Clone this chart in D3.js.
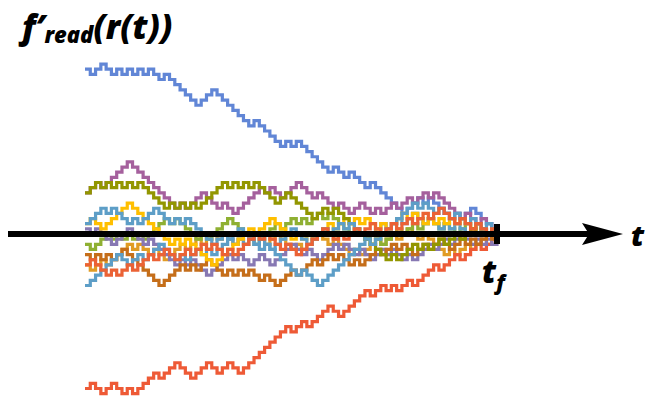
<!DOCTYPE html>
<html>
<head>
<meta charset="utf-8">
<script src="https://cdn.jsdelivr.net/npm/d3@7"></script>
<style>
  html, body { margin: 0; padding: 0; background: #fff; overflow: hidden; }
  svg { display: block; }
  .lbl { font-family: "Open Sans", Lato, "DejaVu Sans", sans-serif; font-weight: 800; font-style: italic; fill: #000; }
</style>
</head>
<body>
<div id="chart"></div>
<script>
// walk levels per time step (79 steps, each step is +/-1 unit)
const blue = [32,31,32,33,32,31,32,31,32,31, 32,31,32,31,30,31,30,29,28,27, 26,25,26,27,28,27,26,25,24,23, 22,21,22,21,20,19,18,17,18,17, 18,17,16,15,14,13,12,13,12,11, 12,11,10,9,10,9,8,7,6,5, 4,5,6,7,6,7,6,5,4,3, 4,3,4,5,4,3,2,1,0];
const red = [-30,-29,-30,-31,-30,-29,-30,-31,-30,-31, -30,-29,-28,-27,-28,-27,-26,-25,-26,-27, -28,-27,-26,-25,-26,-27,-26,-25,-26,-27, -26,-25,-24,-23,-22,-21,-20,-19,-18,-19, -18,-17,-18,-17,-16,-15,-14,-15,-16,-15, -14,-13,-12,-11,-12,-11,-10,-11,-10,-11, -10,-9,-10,-9,-8,-7,-6,-7,-6,-5, -4,-5,-4,-3,-2,-3,-2,-1,0];
const magenta = [8,9,10,9,10,11,12,13,14,13, 12,11,10,9,8,7,6,5,6,5, 6,7,8,7,6,5,6,5,4,5, 6,7,8,9,8,9,8,7,8,9, 10,9,8,7,8,7,6,5,6,5, 4,5,6,5,4,5,4,5,6,5, 6,7,6,7,8,7,8,7,6,5, 4,3,4,3,2,3,2,1,0];
const olive = [8,9,10,9,10,9,10,9,10,9, 10,9,8,7,6,5,6,5,6,5, 6,5,6,7,8,9,10,9,10,9, 10,9,10,9,8,7,6,7,8,7, 6,5,4,3,4,5,4,5,4,3, 2,1,0,-1,-2,-3,-4,-5,-4,-5, -4,-3,-2,-3,-2,-3,-2,-1,-2,-1, 0,-1,0,1,0,1,0,1,0];
const yellow = [2,3,2,1,2,3,4,5,6,5, 4,3,2,1,0,-1,-2,-1,-2,-1, -2,-3,-4,-5,-6,-5,-4,-3,-2,-1, 0,1,0,1,2,3,2,1,0,-1, 0,-1,0,-1,0,1,2,1,2,3, 2,3,2,3,2,1,2,1,2,3, 4,3,4,3,2,3,2,3,2,3, 2,3,2,1,2,1,0,1,0];
const lightBlueA = [-10,-9,-8,-7,-6,-5,-4,-5,-6,-5, -4,-5,-4,-3,-2,-3,-4,-5,-4,-5, -4,-3,-4,-3,-4,-3,-2,-1,-2,-1, -2,-1,-2,-3,-2,-3,-4,-5,-6,-7, -8,-7,-8,-9,-10,-9,-8,-7,-6,-5, -4,-3,-2,-1,0,1,2,1,2,3, 2,3,4,3,2,3,2,1,2,1, 2,1,0,1,2,1,0,1,0];
const lightBlueB = [2,3,4,5,4,5,4,3,2,3, 2,3,4,5,4,3,2,3,2,3, 2,1,0,-1,-2,-1,0,-1,0,1, 0,-1,-2,-1,-2,-3,-2,-1,0,1, 0,-1,-2,-1,0,1,0,1,2,1, 2,1,0,-1,-2,-1,0,1,2,3, 4,5,6,5,6,5,4,5,4,3, 4,3,2,3,2,1,2,1,0];
const green = [-2,-3,-2,-1,0,-1,0,-1,0,-1, 0,-1,0,1,2,3,2,3,2,1, 0,-1,0,-1,0,1,2,3,2,1, 0,-1,-2,-1,0,1,2,1,2,3, 2,3,2,3,4,3,4,3,2,1, 0,1,0,-1,-2,-1,-2,-1,0,1, 0,1,2,1,2,3,2,1,2,1, 0,1,2,1,2,1,0,1,0];
const brown = [-4,-5,-4,-5,-4,-5,-4,-3,-4,-5, -6,-7,-8,-9,-10,-9,-8,-7,-6,-7, -6,-7,-6,-5,-6,-7,-8,-7,-8,-7, -8,-7,-8,-9,-8,-9,-10,-9,-8,-7, -8,-7,-6,-5,-6,-5,-4,-5,-4,-5, -6,-5,-6,-5,-4,-3,-4,-3,-2,-3, -2,-3,-4,-3,-2,-3,-2,-1,-2,-3, -2,-1,-2,-1,-2,-1,0,-1,0];
const purple = [1,0,1,0,-1,-2,-1,0,1,0, -1,-2,-1,-2,-3,-4,-5,-6,-5,-6, -5,-6,-7,-8,-7,-6,-5,-4,-5,-4, -5,-6,-5,-4,-5,-6,-5,-4,-3,-2, -3,-4,-3,-4,-5,-4,-3,-2,-3,-2, -3,-4,-3,-4,-5,-4,-3,-4,-3,-4, -5,-4,-5,-4,-3,-2,-3,-2,-1,-2, -1,0,-1,-2,-1,-2,-1,-2,-1];
const orange = [-6,-7,-6,-5,-6,-5,-4,-3,-2,-3, -2,-3,-4,-3,-4,-5,-4,-3,-2,-3, -2,-1,-2,-1,0,-1,0,-1,-2,-1, -2,-1,0,-1,-2,-1,0,-1,-2,-3, -2,-3,-2,-1,0,-1,-2,-1,-2,-3, -4,-3,-4,-3,-2,-1,-2,-1,0,-1, 0,1,0,-1,0,-1,-2,-3,-4,-3, -4,-3,-2,-3,-2,-1,-2,-1,0];
const redMid = [-6,-5,-6,-7,-8,-7,-8,-7,-6,-7, -6,-5,-4,-5,-4,-3,-4,-5,-4,-3, -4,-3,-2,-3,-2,-3,-4,-3,-4,-3, -2,-1,0,-1,0,-1,-2,-3,-2,-3, -4,-3,-2,-1,0,1,0,-1,0,-1, 0,1,0,1,2,1,0,1,2,1, 2,3,2,3,4,3,4,5,4,3, 2,3,2,1,2,1,0,1,0];

const series = [
  { name: 'blue',       values: blue,       color: '#6186d6' },
  { name: 'orange',     values: orange,     color: '#E19C24' },
  { name: 'green',      values: green,      color: '#8FB032' },
  { name: 'red',        values: red,        color: '#EE5A36' },
  { name: 'purple',     values: purple,     color: '#8778B3' },
  { name: 'brown',      values: brown,      color: '#C56E1A' },
  { name: 'lightBlueA', values: lightBlueA, color: '#5D9EC7' },
  { name: 'yellow',     values: yellow,     color: '#FFBF00' },
  { name: 'magenta',    values: magenta,    color: '#A5609D' },
  { name: 'olive',      values: olive,      color: '#929600' },
  { name: 'lightBlueB', values: lightBlueB, color: '#5D9EC7' },
  { name: 'redMid',     values: redMid,     color: '#EB6235' }
];

const width = 645, height = 397;
const nSteps = blue.length - 1;

const x = d3.scaleLinear().domain([0, nSteps]).range([85, 497]);
const y = d3.scaleLinear().domain([0, 1]).range([234, 228.85]);

const svg = d3.select('#chart').append('svg')
  .attr('width', width)
  .attr('height', height);

const line = d3.line()
  .x((d, i) => x(i))
  .y(d => y(d))
  .curve(d3.curveStepAfter);

svg.append('g').selectAll('path')
  .data(series)
  .enter().append('path')
    .attr('d', d => line(d.values))
    .attr('fill', 'none')
    .attr('stroke', d => d.color)
    .attr('stroke-width', 3.2)
    .attr('stroke-linejoin', 'miter');

// time axis with arrow
const axis = svg.append('g');
axis.append('line')
  .attr('x1', 8).attr('x2', 592)
  .attr('y1', y(0)).attr('y2', y(0))
  .attr('stroke', '#000')
  .attr('stroke-width', 6);
axis.append('path')
  .attr('d', `M623,${y(0)} L582,${y(0) - 11} L589,${y(0)} L582,${y(0) + 11} Z`)
  .attr('fill', '#000');
// tick at t_f
axis.append('rect')
  .attr('x', x(nSteps) - 3).attr('y', y(0) - 10)
  .attr('width', 6).attr('height', 20)
  .attr('fill', '#000');

// labels
const title = svg.append('text').attr('class', 'lbl')
  .attr('x', 22).attr('y', 39).attr('font-size', 33);
title.append('tspan').text('f');
title.append('tspan').text('\u2032');
title.append('tspan').attr('font-size', 22).attr('dy', 4).text('read');
title.append('tspan').attr('dy', -4).text('(r(t))');

const tf = svg.append('text').attr('class', 'lbl')
  .attr('x', x(nSteps) - 15).attr('y', 283).attr('font-size', 31);
tf.append('tspan').text('t');
tf.append('tspan').attr('font-size', 21).attr('dy', 7).text('f');

svg.append('text').attr('class', 'lbl')
  .attr('x', 631).attr('y', 246).attr('font-size', 29)
  .text('t');
</script>
</body>
</html>
